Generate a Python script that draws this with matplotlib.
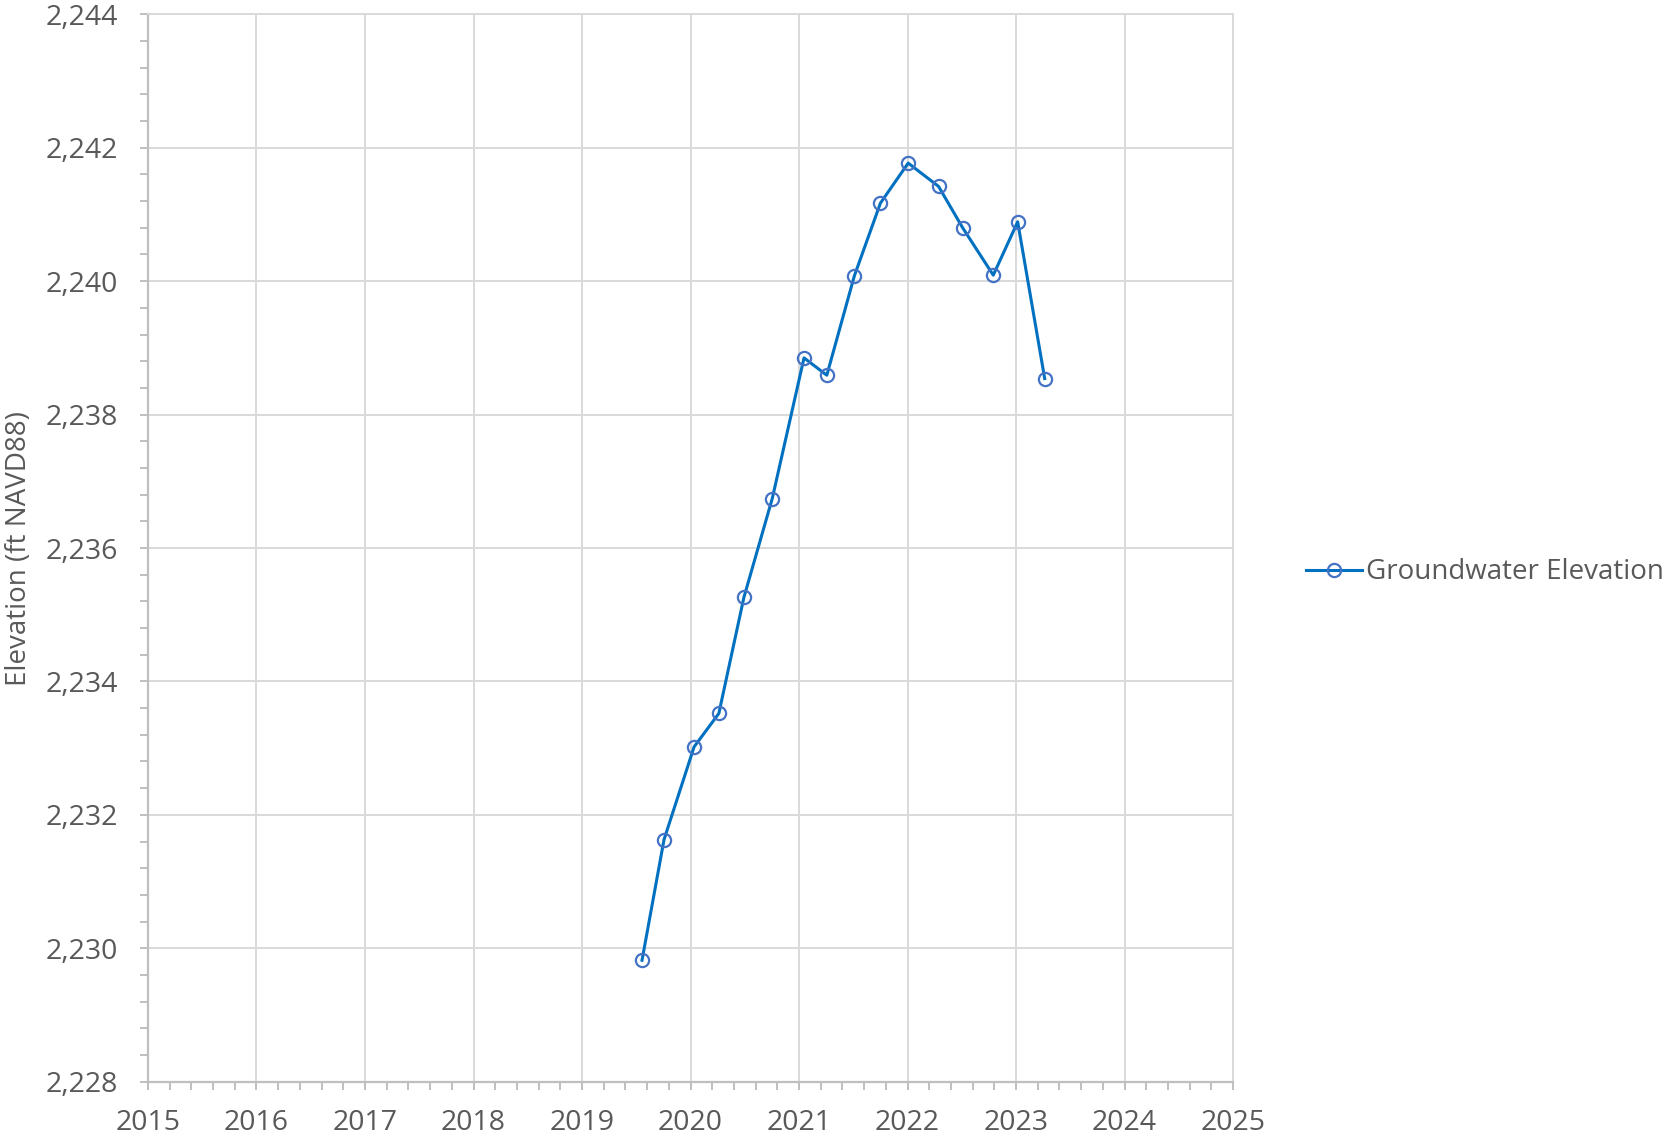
import matplotlib
matplotlib.use('Agg')
import matplotlib.pyplot as plt
from matplotlib.ticker import MultipleLocator, FuncFormatter

years = [2019.553, 2019.756, 2020.033, 2020.261, 2020.492, 2020.753,
         2021.046, 2021.256, 2021.510, 2021.750, 2022.006, 2022.286,
         2022.508, 2022.790, 2023.015, 2023.264]
elev = [2229.82, 2231.63, 2233.02, 2233.52, 2235.26, 2236.74,
        2238.85, 2238.59, 2240.08, 2241.17, 2241.77, 2241.42,
        2240.80, 2240.09, 2240.89, 2238.54]
series_name = 'Groundwater Elevation'
ylabel = 'Elevation (ft NAVD88)'

txt = '#595959'
grid = '#D9D9D9'
fs = 20.5

plt.rcParams['font.family'] = ['Open Sans', 'DejaVu Sans']

fig = plt.figure(figsize=(16.74, 11.38), dpi=100)
ax = fig.add_axes([0.0884, 0.0495, 0.6482, 0.9379])

line, = ax.plot(years, elev, color='#0070C0', lw=2.2, marker='o', ms=9.5,
                mfc='none', mec='#4472C4', mew=1.6, label=series_name, zorder=3)

ax.set_xlim(2015, 2025)
ax.set_ylim(2228, 2244)
ax.xaxis.set_major_locator(MultipleLocator(1))
ax.xaxis.set_minor_locator(MultipleLocator(0.2))
ax.yaxis.set_major_locator(MultipleLocator(2))
ax.yaxis.set_minor_locator(MultipleLocator(0.4))
ax.xaxis.set_major_formatter(FuncFormatter(lambda v, p: '%d' % round(v)))
ax.yaxis.set_major_formatter(FuncFormatter(lambda v, p: '{:,.0f}'.format(v)))

ax.grid(True, which='major', color=grid, lw=1.4)
ax.set_axisbelow(True)
for s in ['top', 'right']:
    ax.spines[s].set_color(grid)
    ax.spines[s].set_linewidth(1.4)
for s in ['left', 'bottom']:
    ax.spines[s].set_color('#BFBFBF')
    ax.spines[s].set_linewidth(1.6)

ax.tick_params(which='both', direction='out', color='#BFBFBF', width=1.4,
               labelsize=fs, labelcolor=txt)
ax.tick_params(which='major', length=5.5)
ax.tick_params(which='minor', length=5.5)
ax.tick_params(axis='x', which='major', pad=14.5)
ax.tick_params(axis='y', which='major', pad=16)

ax.set_ylabel(ylabel, fontsize=20, color=txt)
ax.yaxis.set_label_coords(-0.106, 0.5)

fig.legend(handles=[line], loc='center left', bbox_to_anchor=(0.7736, 0.497),
           frameon=False, fontsize=20, labelcolor=txt, handlelength=2.0,
           handletextpad=0.15, borderaxespad=0)

fig.savefig('out.png', dpi=100)
